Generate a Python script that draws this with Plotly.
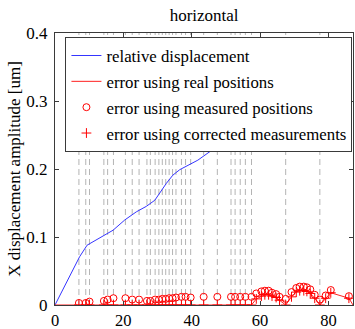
import plotly.graph_objects as go

# Sensor positions (dashed verticals)
sensor_x = [7.0, 9.0, 10.1, 14.3, 15.4, 17.1, 20.6, 22.6, 24.6, 26.9, 27.9, 29.3,
            30.4, 31.4, 32.4, 33.4, 34.4, 35.4, 37.0, 38.2, 39.7, 43.5, 47.5,
            51.5, 52.7, 54.2, 55.7, 57.5, 67.5, 77.5]

# Relative displacement
disp_x = [0, 7.2, 9.4, 12.1, 17.0, 20.4, 23.8, 26.7, 29.2, 32.6, 34.5, 36.5,
          41.8, 46.0, 60.0, 75.0, 86.0]
disp_y = [0, 0.071, 0.088, 0.096, 0.110, 0.125, 0.137, 0.145, 0.154, 0.179,
          0.191, 0.199, 0.213, 0.228, 0.26, 0.29, 0.31]

# Error using real positions
real_x = [0, 57.5, 58.9, 60.4, 61.4, 62.5, 63.5, 64.7, 65.7, 67.5, 69.2, 70.6,
          71.6, 72.8, 73.7, 74.7, 76.0, 77.5, 79.2, 80.7, 86.0, 87.2]
real_y = [0, 0, 0.009, 0.013, 0.015, 0.015, 0.013, 0.011, 0.007, 0, 0.012, 0.019,
          0.021, 0.021, 0.020, 0.017, 0.010, 0, 0.010, 0.018, 0.010, 0]

# Error using measured positions
meas_x = sensor_x + [58.9, 60.4, 61.4, 62.5, 63.5, 64.7, 65.7,
                     69.2, 70.6, 71.6, 72.8, 73.7, 74.7, 76.0, 79.2, 80.7, 86.0]
meas_y = [0.003, 0.003, 0.005, 0.006, 0.008, 0.010, 0.010, 0.008, 0.008, 0.006,
          0.006, 0.008, 0.008, 0.009, 0.009, 0.010, 0.010, 0.011, 0.012, 0.012,
          0.011, 0.012, 0.012, 0.012, 0.012, 0.012, 0.012, 0.012, 0.009, 0.008,
          0.017, 0.020, 0.021, 0.021, 0.018, 0.016, 0.012,
          0.019, 0.025, 0.027, 0.027, 0.026, 0.023, 0.015, 0.014, 0.022, 0.013]

# Error using corrected measurements
corr_x = sensor_x + [58.9, 60.4, 61.4, 62.5, 63.5, 64.7, 65.7,
                     69.2, 70.6, 71.6, 72.8, 73.7, 74.7, 76.0, 79.2, 80.7, 86.0]
corr_y = [0.0] * len(sensor_x) + [0.009, 0.013, 0.015, 0.015, 0.013, 0.011, 0.007,
                                  0.012, 0.019, 0.021, 0.021, 0.020, 0.017, 0.010,
                                  0.010, 0.018, 0.010]

x_ticks = [0, 20, 40, 60, 80]
y_ticks = [0, 0.1, 0.2, 0.3, 0.4]
y_tick_text = ["0", "0.1", "0.2", "0.3", "0.4"]

FONT = "Liberation Serif"
AXIS = "#3a3a3a"

fig = go.Figure()

# dashed verticals at the sensor positions
vx, vy = [], []
for s in sensor_x:
    vx += [s, s, None]
    vy += [0, 0.4, None]
fig.add_trace(go.Scatter(x=vx, y=vy, mode="lines", showlegend=False,
                         line=dict(color="#b4b4b4", width=1, dash="6px,4px"),
                         hoverinfo="skip"))

fig.add_trace(go.Scatter(x=disp_x, y=disp_y, mode="lines", name="relative displacement",
                         legendgroup="a", line=dict(color="#3535ff", width=1)))
fig.add_trace(go.Scatter(x=real_x, y=real_y, mode="lines", name="error using real positions",
                         legendgroup="b", line=dict(color="#ff2020", width=1)))
fig.add_trace(go.Scatter(x=meas_x, y=meas_y, mode="markers",
                         name="error using measured positions", legendgroup="c",
                         marker=dict(symbol="circle-open", size=7, color="#ff0000",
                                     line=dict(width=1))))
fig.add_trace(go.Scatter(x=corr_x, y=corr_y, mode="markers",
                         name="error using corrected measurements", legendgroup="d",
                         marker=dict(symbol="cross-thin-open", size=7, color="#ff0000",
                                     line=dict(width=1, color="#ff0000"))))

fig.update_layout(
    width=355, height=329,
    margin=dict(l=55, r=2, t=33, b=24),
    paper_bgcolor="white", plot_bgcolor="white",
    font=dict(family=FONT, size=17, color="black"),
    title=dict(text="horizontal", x=0.575, xanchor="center", y=1 - 15 / 329,
               yanchor="middle", yref="container", font=dict(size=17)),
    legend=dict(x=0.035, y=0.985, xanchor="left", yanchor="top",
                bgcolor="white", bordercolor=AXIS, borderwidth=1,
                traceorder="grouped", tracegroupgap=1,
                font=dict(family=FONT, size=16.8)),
    showlegend=True,
)
fig.update_xaxes(range=[0, 87.2], tickvals=x_ticks, ticks="inside", ticklen=4,
                 tickcolor=AXIS, showline=True, linecolor=AXIS, linewidth=1,
                 mirror="allticks", showgrid=False, zeroline=False,
                 ticklabelstandoff=0, tickfont=dict(size=16.5), automargin=False)
fig.update_yaxes(range=[0, 0.4], tickvals=y_ticks, ticktext=y_tick_text,
                 ticks="inside", ticklen=4, tickcolor=AXIS, showline=True,
                 linecolor=AXIS, linewidth=1, mirror="allticks", showgrid=False,
                 zeroline=False, ticklabelstandoff=3, automargin=False,
                 title=dict(text="X displacement amplitude [um]", standoff=1,
                            font=dict(family=FONT, size=17)))

fig.write_html("out.html")
